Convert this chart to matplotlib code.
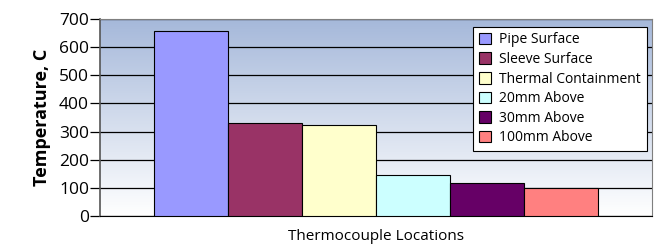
import matplotlib
import numpy as np

matplotlib.use("Agg")
import matplotlib.pyplot as plt  # noqa: E402
from matplotlib.colors import LinearSegmentedColormap  # noqa: E402

plt.rcParams["font.family"] = ["Open Sans", "DejaVu Sans"]

# values
locations = ["Pipe Surface", "Sleeve Surface", "Thermal Containment",
             "20mm Above", "30mm Above", "100mm Above"]
temperatures = [656, 331, 323, 147, 119, 100]
colors = ["#9999ff", "#993366", "#ffffcc", "#ccffff", "#660066", "#ff8080"]
yticks = [0, 100, 200, 300, 400, 500, 600, 700]

fig = plt.figure(figsize=(6.59, 2.49), dpi=100)
ax = fig.add_axes([0.152, 0.1325, 0.837, 0.7915])

# plot-area gradient, blue at top fading to white
cmap = LinearSegmentedColormap.from_list("bg", ["#ffffff", "#a5b8da"])
grad = np.linspace(0, 1, 256).reshape(-1, 1)
ax.imshow(grad, aspect="auto", cmap=cmap, origin="lower",
          extent=[0, 1, 0, 1], transform=ax.transAxes, zorder=0)

width = 0.134
n = len(locations)
x = (np.arange(n) - (n - 1) / 2) * width
for xi, val, col, lab in zip(x, temperatures, colors, locations):
    ax.bar(xi, val, width=width, color=col, edgecolor="black",
           linewidth=0.8, label=lab, zorder=3)

ax.set_xlim(-0.5, 0.5)
ax.set_ylim(0, 700)
ax.set_yticks(yticks)
ax.yaxis.grid(True, color="black", linewidth=0.9, zorder=1)
ax.set_axisbelow(True)
ax.tick_params(axis="y", direction="out", length=7, width=0.9,
               labelsize=12.5, pad=1, colors="black")
ax.tick_params(axis="x", bottom=False, labelbottom=False)

for side in ["top", "right"]:
    ax.spines[side].set_color("#7f7f7f")
ax.spines["left"].set_color("#555555")
ax.spines["left"].set_linewidth(1.2)
ax.spines["bottom"].set_color("black")

ax.set_ylabel("Temperature, C", fontsize=13, fontweight="bold", labelpad=6)
ax.set_xlabel("Thermocouple Locations", fontsize=11, labelpad=9)

leg = ax.legend(loc="upper right", bbox_to_anchor=(0.991, 0.96),
                fontsize=10, frameon=True, fancybox=False,
                handlelength=0.9, handleheight=0.9, handletextpad=0.6,
                labelspacing=0.33, borderpad=0.4, borderaxespad=0)
leg.get_frame().set_edgecolor("black")
leg.get_frame().set_linewidth(0.8)
leg.get_frame().set_facecolor("white")
leg.get_frame().set_alpha(1)

fig.savefig("out.png", dpi=100)
